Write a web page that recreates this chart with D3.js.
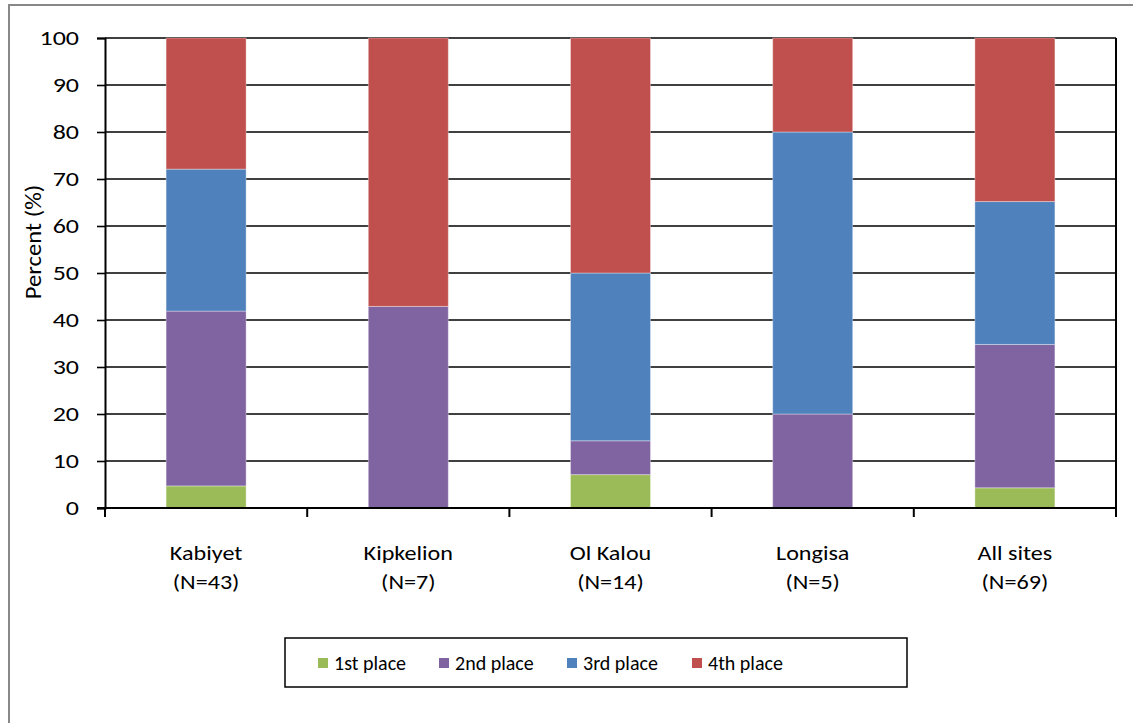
<!DOCTYPE html>
<html>
<head>
<meta charset="utf-8">
<script src="https://cdn.jsdelivr.net/npm/d3@7"></script>
<style>
  body { margin:0; background:#fff; }
  text { font-family: Carlito, Calibri, Lato, sans-serif; fill:#000; }
</style>
</head>
<body>
<svg id="chart" width="1133" height="723"></svg>
<script>
// data
const SITES  = ["Kabiyet", "Kipkelion", "Ol Kalou", "Longisa", "All sites"];
const NS     = [43, 7, 14, 5, 69];
const KEYS   = ["first", "second", "third", "fourth"];
const LABELS = ["1st place", "2nd place", "3rd place", "4th place"];
const COLORS = ["#9BBB59", "#8064A2", "#4F81BD", "#C0504D"];
const FIRST  = [4.7, 0, 7.1, 0, 4.3];
const SECOND = [37.2, 42.9, 7.2, 20, 30.5];
const THIRD  = [30.2, 0, 35.7, 60, 30.4];
const FOURTH = [27.9, 57.1, 50, 20, 34.8];
const YTICKS = [0, 10, 20, 30, 40, 50, 60, 70, 80, 90, 100];

const rows = SITES.map((s, i) => ({ site: s, n: NS[i],
  first: FIRST[i], second: SECOND[i], third: THIRD[i], fourth: FOURTH[i] }));

const FONT = "Carlito, Calibri, Lato, sans-serif";
const svg = d3.select("#chart");
const MG = { l:105, r:1116, t:38, b:508 };

// outer frame
svg.append("rect").attr("x", 9).attr("y", 5).attr("width", 1140).attr("height", 740)
  .attr("fill", "none").attr("stroke", "#888").attr("stroke-width", 2);

const x = d3.scaleBand().domain(SITES).range([MG.l, MG.r]);
const y = d3.scaleLinear().domain([0, 100]).range([MG.b, MG.t]);
const barW = 80;

// gridlines
svg.append("g").selectAll("line").data(YTICKS.slice(1)).join("line")
  .attr("x1", MG.l).attr("x2", MG.r).attr("y1", d => y(d)).attr("y2", d => y(d))
  .attr("stroke", "#000").attr("stroke-width", 1.6);

// stacked bars
const series = d3.stack().keys(KEYS)(rows);
svg.append("g").selectAll("g").data(series).join("g")
  .attr("fill", (s, i) => COLORS[i])
  .selectAll("rect").data(s => s).join("rect")
  .attr("x", d => x(d.data.site) + x.bandwidth() / 2 - barW / 2)
  .attr("width", barW)
  .attr("y", d => y(d[1]))
  .attr("height", d => y(d[0]) - y(d[1]))
  .attr("stroke", "rgba(255,255,255,0.35)").attr("stroke-width", 1);

// y axis (labels stretched a bit wider, like the original)
const SX = 1.3;
svg.append("g").attr("transform", `translate(${MG.l},0)`)
  .call(d3.axisLeft(y).tickValues(YTICKS).tickSize(8).tickPadding(18))
  .call(g => g.select(".domain").attr("stroke", "#000").attr("stroke-width", 2))
  .call(g => g.selectAll(".tick line").attr("stroke", "#000").attr("stroke-width", 1.6))
  .call(g => g.selectAll(".tick text").attr("font-size", 20)
    .attr("font-family", FONT).attr("fill", "#000")
    .attr("x", -26 / SX).attr("transform", `scale(${SX},1)`));

// x axis line + ticks at band boundaries
const bounds = SITES.map(s => x(s)).concat([MG.r]);
svg.append("line").attr("x1", MG.l - 8).attr("x2", MG.r).attr("y1", MG.b).attr("y2", MG.b)
  .attr("stroke", "#000").attr("stroke-width", 2);
svg.append("g").selectAll("line").data(bounds).join("line")
  .attr("x1", d => d).attr("x2", d => d).attr("y1", MG.b).attr("y2", MG.b + 9)
  .attr("stroke", "#000").attr("stroke-width", 2);
// right plot border
svg.append("line").attr("x1", MG.r).attr("x2", MG.r).attr("y1", MG.t).attr("y2", MG.b)
  .attr("stroke", "#000").attr("stroke-width", 2);

// category labels
const cat = svg.append("g").selectAll("text").data(rows).join("text")
  .attr("text-anchor", "middle").attr("font-size", 21)
  .attr("transform", d => `translate(${x(d.site) + x.bandwidth() / 2},0) scale(1.15,1)`);
cat.append("tspan").attr("x", 0).attr("y", 560).text(d => d.site);
cat.append("tspan").attr("x", 0).attr("y", 589).text(d => `(N=${d.n})`);

// y label
svg.append("text").attr("transform", "translate(41,242) rotate(-90) scale(1.12,1)")
  .attr("text-anchor", "middle").attr("font-size", 22).text("Percent (%)");

// legend
svg.append("rect").attr("x", 285).attr("y", 638).attr("width", 622).attr("height", 49)
  .attr("fill", "#fff").attr("stroke", "#000").attr("stroke-width", 1.5);
const LX = [318, 439, 567, 692];
const leg = svg.append("g").selectAll("g").data(LABELS).join("g")
  .attr("transform", (d, i) => `translate(${LX[i]},663)`);
leg.append("rect").attr("x", 0).attr("y", -5).attr("width", 10).attr("height", 10)
  .attr("fill", (d, i) => COLORS[i]);
leg.append("text").attr("x", 16).attr("y", 7).attr("font-size", 20).text(d => d);
</script>
</body>
</html>
